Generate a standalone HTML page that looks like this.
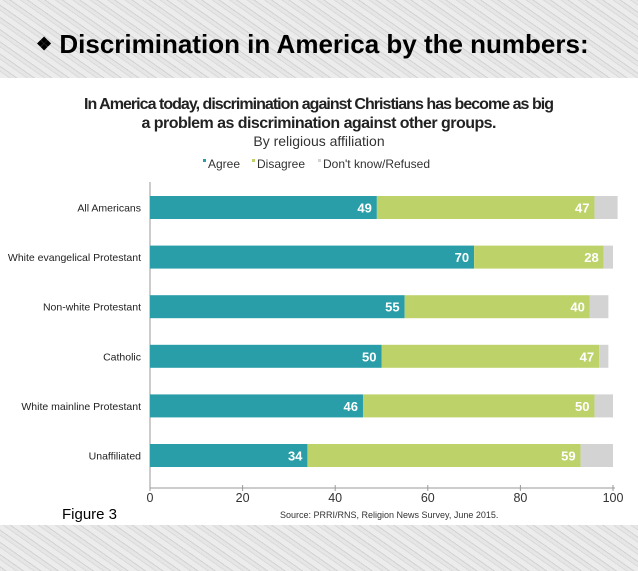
<!DOCTYPE html>
<html><head><meta charset="utf-8"><style>
body{margin:0;width:638px;height:571px;overflow:hidden;font-family:"Liberation Sans",sans-serif;}
#bg{position:absolute;left:0;top:0;width:638px;height:571px;background:repeating-linear-gradient(35deg,#e6e6e6 0 3px,#d2d2d2 3px 4px,#ececec 4px 9px,#dadada 9px 10px);}
</style></head><body>
<div id="bg"></div>
<div style="position:absolute;left:36px;top:29px;font:bold 26px 'Liberation Sans',sans-serif;color:#000;"><span style="font-size:18px;vertical-align:3px">❖</span> Discrimination in America by the numbers:</div>
<svg id="c" width="638" height="571" style="position:absolute;left:0;top:0">
<rect x="0" y="78" width="638" height="447" fill="#fff"/>
<text x="319" y="109" text-anchor="middle" font-size="16" font-weight="bold" fill="#222" textLength="470">In America today, discrimination against Christians has become as big</text>
<text x="319" y="128" text-anchor="middle" font-size="16" font-weight="bold" fill="#222" textLength="355">a problem as discrimination against other groups.</text>
<text x="319" y="146" text-anchor="middle" font-size="14" fill="#333">By religious affiliation</text>
<g font-size="12" fill="#333">
<rect x="203" y="159" width="3" height="3" fill="#2a9ea8"/><text x="208" y="168">Agree</text>
<rect x="252" y="159" width="3" height="3" fill="#bdd36a"/><text x="257" y="168">Disagree</text>
<rect x="318" y="159" width="3" height="3" fill="#d3d3d3"/><text x="323" y="168">Don't know/Refused</text>
</g>
<g id="plot"></g>
<text x="62" y="519" font-size="15" fill="#000">Figure 3</text>
<text x="280" y="518" font-size="9" fill="#333">Source: PRRI/RNS, Religion News Survey, June 2015.</text>
</svg>
<script>
const categories=["All Americans","White evangelical Protestant","Non-white Protestant","Catholic","White mainline Protestant","Unaffiliated"];
const agree=[49,70,55,50,46,34];
const disagree=[47,28,40,47,50,59];
const dontKnow=[5,2,4,2,4,7];
const ticks=[0,20,40,60,80,100];
const ns="http://www.w3.org/2000/svg",g=document.getElementById('plot');
const x0=150,sc=4.63,y0=196,step=49.6,bh=23;
const X=v=>x0+v*sc;
function mk(t,a,p){const e=document.createElementNS(ns,t);for(const k in a)e.setAttribute(k,a[k]);p.appendChild(e);return e;}
const ax=mk('line',{x1:x0,y1:182,x2:x0,y2:488,stroke:'#999'},g);


const bx=mk('line',{x1:x0,y1:488,x2:X(100)+2,y2:488,stroke:'#999'},g);


ticks.forEach(t=>{
 mk('line',{x1:X(t),y1:485,x2:X(t),y2:491,stroke:'#999'},g);
 const tx=mk('text',{x:X(t),y:502,'text-anchor':'middle','font-size':12.5,fill:'#333'},g);tx.textContent=t;
 
 
});
categories.forEach((c,i)=>{
 const y=y0+i*step;
 const l=mk('text',{x:141,y:y+bh/2+4,'text-anchor':'end','font-size':10.5,fill:'#222'},g);l.textContent=c;
 
 
 const a=mk('rect',{x:X(0),y:y,width:X(agree[i])-X(0),height:bh,fill:'#2a9ea8'},g);
 
 
 const d=mk('rect',{x:X(agree[i]),y:y,width:disagree[i]*sc,height:bh,fill:'#bdd36a'},g);
 
 
 const k=mk('rect',{x:X(agree[i]+disagree[i]),y:y,width:dontKnow[i]*sc,height:bh,fill:'#d3d3d3'},g);
 
 
 const ta=mk('text',{x:X(agree[i])-5,y:y+bh/2+5,'text-anchor':'end','font-size':13,'font-weight':'bold',fill:'#fff'},g);ta.textContent=agree[i];
 
 
 const td=mk('text',{x:X(agree[i]+disagree[i])-5,y:y+bh/2+5,'text-anchor':'end','font-size':13,'font-weight':'bold',fill:'#fff'},g);td.textContent=disagree[i];
 
 
});
</script>
</body></html>
